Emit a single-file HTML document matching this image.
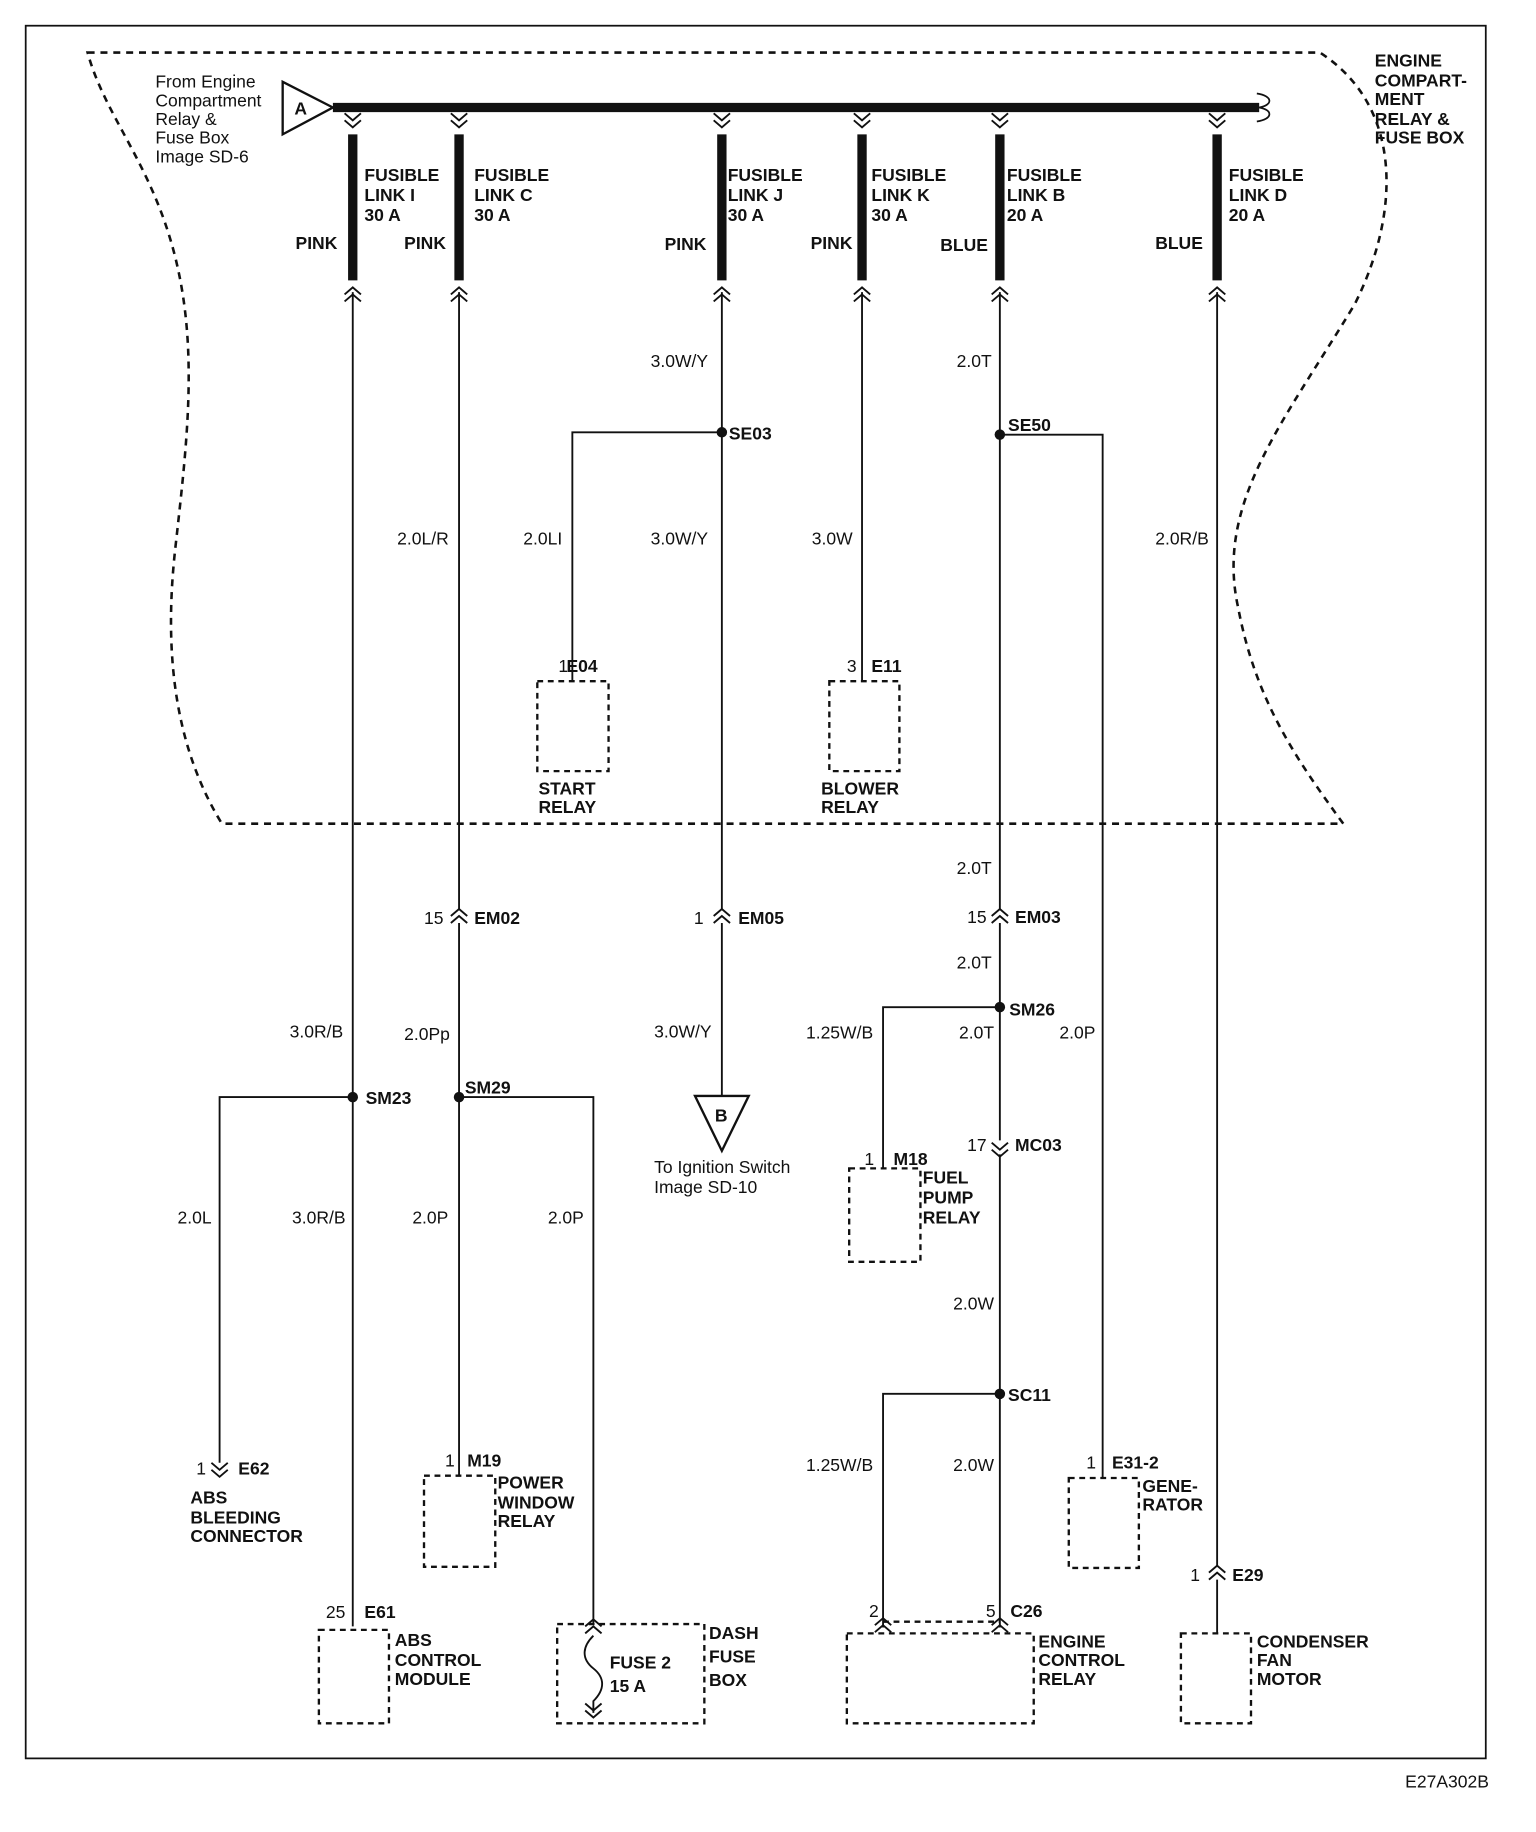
<!DOCTYPE html>
<html><head><meta charset="utf-8"><style>
html,body{margin:0;padding:0;background:#fff;}
svg{display:block;}
text{font-family:"Liberation Sans",sans-serif;font-weight:bold;font-size:15px;fill:#111;}
.n{font-weight:normal;}
</style></head><body>
<svg width="1536" height="1832" viewBox="0 0 1315 1568" preserveAspectRatio="none" xmlns="http://www.w3.org/2000/svg">
<defs>
<g id="dn"><path d="M-7,-6 L0,0 L7,-6 M-7,0 L0,6 L7,0" fill="none" stroke="#111" stroke-width="1.6"/></g>
<g id="up"><path d="M-7,6 L0,0 L7,6 M-7,12 L0,6 L7,12" fill="none" stroke="#111" stroke-width="1.6"/></g>
</defs>
<g fill="none" stroke="#111">
<rect x="22" y="22" width="1250" height="1483" stroke-width="1.5"/>
<path d="M75,45 L1130,45 C1200,90 1200,180 1160,260 C1100,360 1040,430 1060,520 C1075,600 1110,650 1150,705 L190,705 C150,640 140,560 150,470 C160,380 170,300 150,220 C130,140 90,100 75,45 Z" stroke-width="2.2" stroke-dasharray="6,5"/>
<path d="M285,92 L1078,92" stroke-width="8"/>
<path d="M1076,80 C1090,82 1090,90 1078,92 C1090,94 1090,102 1076,104" stroke-width="1.5"/>
<g stroke-width="8">
<path d="M302,115 V240 M393,115 V240 M618,115 V240 M738,115 V240 M856,115 V240 M1042,115 V240"/>
</g>
<g stroke-width="1.6">
<path d="M302,250 V1392 M302,939 H188 V1252"/>
<path d="M393,250 V778 M393,790 V1262 M393,939 H508 V1390"/>
<path d="M618,250 V778 M618,790 V938 M618,370 H490 V583"/>
<path d="M738,250 V583"/>
<path d="M856,250 V778 M856,790 V976 M856,988 V1393 M856,372 H944 V1265 M856,862 H756 V1000 M856,1193 H756 V1393"/>
<path d="M1042,250 V1340 M1042,1352 V1398"/>
</g>
<g stroke-width="2" stroke-dasharray="5,4">
<rect x="460" y="583" width="61" height="77"/>
<rect x="710" y="583" width="60" height="77"/>
<rect x="727" y="1000" width="61" height="80"/>
<rect x="363" y="1263" width="61" height="78"/>
<rect x="915" y="1265" width="60" height="77"/>
<rect x="273" y="1395" width="60" height="80"/>
<rect x="477" y="1390" width="126" height="85"/>
<rect x="725" y="1398" width="160" height="77"/>
<path d="M756,1388 H856"/>
<rect x="1011" y="1398" width="60" height="77"/>
</g>
<path d="M508,1400 C498,1410 498,1420 508,1428 C518,1436 518,1446 508,1456 V1466" stroke-width="1.6"/>
<path d="M242,70 L285,92 L242,115 Z" stroke-width="2"/>
<path d="M595,938 L641,938 L618,985 Z" stroke-width="2"/>
</g>
<g>
<use href="#dn" x="302" y="103"/><use href="#dn" x="393" y="103"/><use href="#dn" x="618" y="103"/><use href="#dn" x="738" y="103"/><use href="#dn" x="856" y="103"/><use href="#dn" x="1042" y="103"/>
<use href="#up" x="302" y="246"/><use href="#up" x="393" y="246"/><use href="#up" x="618" y="246"/><use href="#up" x="738" y="246"/><use href="#up" x="856" y="246"/><use href="#up" x="1042" y="246"/>
<use href="#up" x="393" y="778"/><use href="#up" x="618" y="778"/><use href="#up" x="856" y="778"/><use href="#up" x="1042" y="1340"/>
<use href="#dn" x="856" y="984"/><use href="#dn" x="188" y="1258"/>
<use href="#up" x="756" y="1385"/><use href="#up" x="856" y="1385"/><use href="#up" x="508" y="1386"/>
<use href="#dn" x="508" y="1464"/>
</g>
<g fill="#111">
<circle cx="618" cy="370" r="4.5"/><circle cx="856" cy="372" r="4.5"/><circle cx="302" cy="939" r="4.5"/><circle cx="393" cy="939" r="4.5"/><circle cx="856" cy="862" r="4.5"/><circle cx="856" cy="1193" r="4.5"/>
</g>
<text class="n" x="133" y="75">From Engine</text>
<text class="n" x="133" y="91">Compartment</text>
<text class="n" x="133" y="107">Relay &amp;</text>
<text class="n" x="133" y="123">Fuse Box</text>
<text class="n" x="133" y="139">Image  SD-6</text>
<text x="252" y="98" font-size="13">A</text>
<text x="612" y="960" font-size="13">B</text>
<text x="1177" y="57">ENGINE</text><text x="1177" y="74">COMPART-</text><text x="1177" y="90">MENT</text><text x="1177" y="107">RELAY &amp;</text><text x="1177" y="123">FUSE BOX</text>
<text x="312" y="155">FUSIBLE</text><text x="312" y="172">LINK I</text><text x="312" y="189">30 A</text>
<text x="406" y="155">FUSIBLE</text><text x="406" y="172">LINK C</text><text x="406" y="189">30 A</text>
<text x="623" y="155">FUSIBLE</text><text x="623" y="172">LINK J</text><text x="623" y="189">30 A</text>
<text x="746" y="155">FUSIBLE</text><text x="746" y="172">LINK K</text><text x="746" y="189">30 A</text>
<text x="862" y="155">FUSIBLE</text><text x="862" y="172">LINK B</text><text x="862" y="189">20 A</text>
<text x="1052" y="155">FUSIBLE</text><text x="1052" y="172">LINK D</text><text x="1052" y="189">20 A</text>
<text x="253" y="213">PINK</text><text x="346" y="213">PINK</text><text x="569" y="214">PINK</text><text x="694" y="213">PINK</text><text x="805" y="215">BLUE</text><text x="989" y="213">BLUE</text>
<g class="n">
<text class="n" x="557" y="314">3.0W/Y</text><text class="n" x="819" y="314">2.0T</text>
<text class="n" x="340" y="466">2.0L/R</text><text class="n" x="448" y="466">2.0LI</text><text class="n" x="557" y="466">3.0W/Y</text><text class="n" x="695" y="466">3.0W</text><text class="n" x="989" y="466">2.0R/B</text>
<text class="n" x="819" y="748">2.0T</text><text class="n" x="819" y="829">2.0T</text>
<text class="n" x="363" y="791">15</text><text class="n" x="594" y="791">1</text><text class="n" x="828" y="790">15</text>
<text class="n" x="248" y="888">3.0R/B</text><text class="n" x="346" y="890">2.0Pp</text><text class="n" x="560" y="888">3.0W/Y</text><text class="n" x="690" y="889">1.25W/B</text><text class="n" x="821" y="889">2.0T</text><text class="n" x="907" y="889">2.0P</text>
<text class="n" x="828" y="985">17</text>
<text class="n" x="560" y="1004">To  Ignition Switch</text><text class="n" x="560" y="1021">Image  SD-10</text>
<text class="n" x="152" y="1047">2.0L</text><text class="n" x="250" y="1047">3.0R/B</text><text class="n" x="353" y="1047">2.0P</text><text class="n" x="469" y="1047">2.0P</text>
<text class="n" x="816" y="1121">2.0W</text>
<text class="n" x="690" y="1259">1.25W/B</text><text class="n" x="816" y="1259">2.0W</text>
<text class="n" x="168" y="1262">1</text><text class="n" x="381" y="1255">1</text><text class="n" x="930" y="1257">1</text><text class="n" x="1019" y="1353">1</text><text class="n" x="740" y="997">1</text><text class="n" x="478" y="575">1</text><text class="n" x="725" y="575">3</text>
<text class="n" x="279" y="1385">25</text><text class="n" x="744" y="1384">2</text><text class="n" x="844" y="1384">5</text>
<text class="n" x="1203" y="1530" font-size="12">E27A302B</text>
</g>
<text x="624" y="376">SE03</text><text x="863" y="369">SE50</text>
<text x="485" y="575">E04</text><text x="746" y="575">E11</text>
<text x="406" y="791">EM02</text><text x="632" y="791">EM05</text><text x="869" y="790">EM03</text>
<text x="864" y="869">SM26</text><text x="313" y="945">SM23</text><text x="398" y="936">SM29</text>
<text x="869" y="985">MC03</text><text x="765" y="997">M18</text>
<text x="790" y="1013">FUEL</text><text x="790" y="1030">PUMP</text><text x="790" y="1047">RELAY</text>
<text x="863" y="1199">SC11</text>
<text x="461" y="680">START</text><text x="461" y="696">RELAY</text>
<text x="703" y="680">BLOWER</text><text x="703" y="696">RELAY</text>
<text x="204" y="1262">E62</text>
<text x="163" y="1287">ABS</text><text x="163" y="1304">BLEEDING</text><text x="163" y="1320">CONNECTOR</text>
<text x="400" y="1255">M19</text>
<text x="426" y="1274">POWER</text><text x="426" y="1291">WINDOW</text><text x="426" y="1307">RELAY</text>
<text x="952" y="1257">E31-2</text><text x="978" y="1277">GENE-</text><text x="978" y="1293">RATOR</text>
<text x="1055" y="1353">E29</text>
<text x="312" y="1385">E61</text>
<text x="338" y="1409">ABS</text><text x="338" y="1426">CONTROL</text><text x="338" y="1442">MODULE</text>
<text x="522" y="1428">FUSE 2</text><text x="522" y="1448">15 A</text>
<text x="607" y="1403">DASH</text><text x="607" y="1423">FUSE</text><text x="607" y="1443">BOX</text>
<text x="865" y="1384">C26</text>
<text x="889" y="1410">ENGINE</text><text x="889" y="1426">CONTROL</text><text x="889" y="1442">RELAY</text>
<text x="1076" y="1410">CONDENSER</text><text x="1076" y="1426">FAN</text><text x="1076" y="1442">MOTOR</text>
</svg>
</body></html>
